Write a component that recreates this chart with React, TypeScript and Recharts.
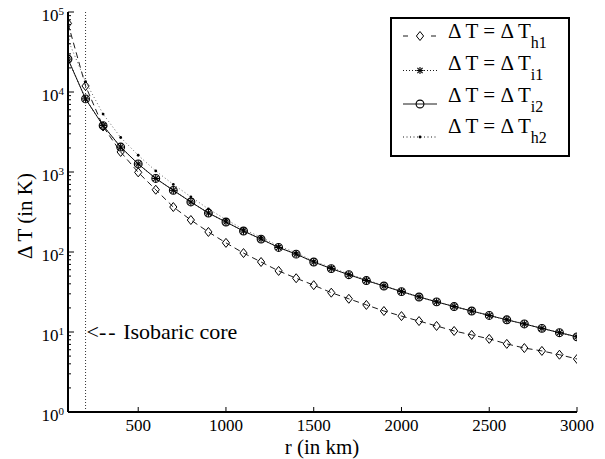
import React from 'react';
import { LineChart, Line, XAxis, YAxis, ReferenceLine, ReferenceDot, Legend } from 'recharts';

const FONT = "'Liberation Serif', 'DejaVu Serif', 'Times New Roman', Times, serif";

// r in km
const radius = [
  100, 200, 300, 400, 500, 600, 700, 800, 900, 1000,
  1100, 1200, 1300, 1400, 1500, 1600, 1700, 1800, 1900, 2000,
  2100, 2200, 2300, 2400, 2500, 2600, 2700, 2800, 2900, 3000,
];

// delta T (in K)
const deltaH1 = [
  72000, 11900, 3700, 1780, 990, 600, 365, 251, 178, 130,
  97, 75, 58, 47, 38.5, 31, 26, 21.8, 18.3, 15.8,
  13.7, 11.9, 10.3, 9.2, 8.2, 7.1, 6.3, 5.8, 5.2, 4.6,
];
const deltaI1 = [
  25800, 8200, 3800, 2050, 1260, 830, 590, 422, 307, 237,
  183, 145, 114, 94, 75, 62, 52, 44, 37.6, 32,
  27.4, 23.8, 20.8, 18.3, 16.1, 14.2, 12.6, 11.1, 9.8, 8.7,
];
const deltaI2 = [
  25800, 8200, 3800, 2050, 1260, 830, 590, 422, 307, 237,
  183, 145, 114, 94, 75, 62, 52, 44, 37.6, 32,
  27.4, 23.8, 20.8, 18.3, 16.1, 14.2, 12.6, 11.1, 9.8, 8.7,
];
const deltaH2 = [
  45000, 13500, 5300, 2700, 1620, 1030, 700, 490, 345, 255,
  192, 153, 119, 98, 77, 64, 53, 45, 38, 32.3,
  27.6, 24, 21, 18.4, 16.2, 14.3, 12.7, 11.2, 9.9, 8.8,
];

const legendSubs = ['h1', 'i1', 'i2', 'h2'];

const xTicks = [500, 1000, 1500, 2000, 2500, 3000];
const decadeTicks = [1, 10, 100, 1000, 10000, 100000];
const minorSteps = [2, 3, 4, 5, 6, 7, 8, 9];
const yTicks = [
  ...decadeTicks.slice(0, 5).flatMap(d => [d, ...minorSteps.map(m => m * d)]),
  100000,
];

const data = radius.map((r, i) => ({
  r,
  h1: deltaH1[i],
  i1: deltaI1[i],
  i2: deltaI2[i],
  h2: deltaH2[i],
}));

const txt = { fontFamily: FONT, fill: '#000' };

// ---- markers ----
function Diamond({ cx, cy }: any) {
  return <path d={`M${cx},${cy - 4.5}L${cx + 3.6},${cy}L${cx},${cy + 4.5}L${cx - 3.6},${cy}Z`} fill="none" stroke="#000" strokeWidth={1} />;
}
function Asterisk({ cx, cy }: any) {
  const a = 3.6, b = 2.6;
  return (
    <g stroke="#000" strokeWidth={1.1}>
      <line x1={cx - a} x2={cx + a} y1={cy} y2={cy} />
      <line x1={cx} x2={cx} y1={cy - a} y2={cy + a} />
      <line x1={cx - b} x2={cx + b} y1={cy - b} y2={cy + b} />
      <line x1={cx - b} x2={cx + b} y1={cy + b} y2={cy - b} />
    </g>
  );
}
function Ring({ cx, cy }: any) {
  return <circle cx={cx} cy={cy} r={3.9} fill="none" stroke="#000" strokeWidth={1.1} />;
}
function Point({ cx, cy }: any) {
  return <circle cx={cx} cy={cy} r={1.4} fill="#000" />;
}

// ---- ticks (MATLAB style, pointing inward) ----
function LeftTick({ x, y, payload }: any) {
  const major = decadeTicks.includes(payload.value);
  return (
    <g>
      <line x1={x} x2={x + (major ? 6 : 3)} y1={y} y2={y} stroke="#000" />
      {major && (
        <text x={x - 4} y={y + 9} textAnchor="end" fontSize={17} style={txt}>
          10<tspan dy={-6.5} fontSize={11}>{Math.round(Math.log10(payload.value))}</tspan>
        </text>
      )}
    </g>
  );
}
function RightTick({ x, y, payload }: any) {
  const major = decadeTicks.includes(payload.value);
  return <line x1={x} x2={x - (major ? 6 : 3)} y1={y} y2={y} stroke="#000" />;
}
function BottomTick({ x, y, payload }: any) {
  return (
    <g>
      <line x1={x} x2={x} y1={y} y2={y - 5} stroke="#000" />
      <text x={x} y={y + 19} textAnchor="middle" fontSize={17} style={txt}>
        {payload.value}
      </text>
    </g>
  );
}
function TopTick({ x, y }: any) {
  return <line x1={x} x2={x} y1={y} y2={y + 5} stroke="#000" />;
}

function YTitle() {
  return (
    <text x={25} y={216} transform="rotate(-90 25 216)" textAnchor="middle" dominantBaseline="central" fontSize={21} style={txt}>
      Δ T (in K)
    </text>
  );
}
function XTitle() {
  return (
    <text x={322} y={454} textAnchor="middle" fontSize={21} style={txt}>
      r (in km)
    </text>
  );
}
function CoreLabel({ viewBox }: any) {
  return (
    <text x={viewBox.x + 1} y={viewBox.y + 7} fontSize={22} style={txt}>
      {'<'}<tspan letterSpacing={2}>{'--'}</tspan>{'  Isobaric core'}
    </text>
  );
}

function LegendBox() {
  const markers = [Diamond, Asterisk, Ring, Point];
  const dashes = ['5 23', '1 2', undefined, '1 2.5'];
  const sampleY = [19, 53.5, 87, 120];
  const baseY = [21, 53, 84.5, 115.5];
  return (
    <svg width={180} height={141} style={{ display: 'block' }}>
      <rect x={1} y={1} width={178} height={138} fill="#fff" stroke="#000" strokeWidth={2} />
      {legendSubs.map((sub, i) => {
        const M = markers[i];
        return (
          <g key={sub}>
            <line x1={13} x2={47} y1={sampleY[i]} y2={sampleY[i]} stroke="#000" strokeWidth={0.9} strokeDasharray={dashes[i]} />
            <M cx={30} cy={sampleY[i]} />
            <text x={58} y={baseY[i]} fontSize={21} style={txt}>
              Δ T = Δ T<tspan dy={10} fontSize={16}>{sub}</tspan>
            </text>
          </g>
        );
      })}
    </svg>
  );
}

export default function App() {
  return (
    <div style={{ position: 'absolute', left: 0, top: 0, background: '#fff', fontFamily: FONT }}>
      <LineChart width={605} height={459} data={data} margin={{ top: 12, right: 28, left: 0, bottom: 0 }}>
        <XAxis
          dataKey="r"
          type="number"
          domain={[100, 3000]}
          ticks={xTicks}
          interval={0}
          height={47}
          tickSize={0}
          tickMargin={0}
          tickLine={false}
          tick={<BottomTick />}
          axisLine={{ stroke: '#000', strokeWidth: 2 }}
          label={<XTitle />}
          allowDataOverflow
        />
        <XAxis
          xAxisId="top"
          orientation="top"
          dataKey="r"
          type="number"
          domain={[100, 3000]}
          ticks={xTicks}
          interval={0}
          height={0}
          tickSize={0}
          tickMargin={0}
          tickLine={false}
          tick={<TopTick />}
          axisLine={{ stroke: '#000', strokeWidth: 2 }}
          allowDataOverflow
        />
        <YAxis
          type="number"
          scale="log"
          domain={[1, 100000]}
          ticks={yTicks}
          interval={0}
          width={68}
          tickSize={0}
          tickMargin={0}
          tickLine={false}
          tick={<LeftTick />}
          axisLine={{ stroke: '#000', strokeWidth: 2 }}
          label={<YTitle />}
          allowDataOverflow
        />
        <YAxis
          yAxisId="right"
          orientation="right"
          type="number"
          scale="log"
          domain={[1, 100000]}
          ticks={yTicks}
          interval={0}
          width={0}
          tickSize={0}
          tickMargin={0}
          tickLine={false}
          tick={<RightTick />}
          axisLine={{ stroke: '#000', strokeWidth: 2 }}
          allowDataOverflow
        />
        <ReferenceLine x={200} stroke="#333" strokeDasharray="1 2" />
        <ReferenceDot x={200} y={10} r={0} fill="none" stroke="none" label={<CoreLabel />} />
        <Line dataKey="h1" stroke="#000" strokeWidth={0.9} strokeDasharray="6 4" dot={<Diamond />} activeDot={false} legendType="none" isAnimationActive={false} />
        <Line dataKey="i1" stroke="#000" strokeWidth={0.9} strokeDasharray="1 2" dot={<Asterisk />} activeDot={false} legendType="none" isAnimationActive={false} />
        <Line dataKey="i2" stroke="#000" strokeWidth={0.9} dot={<Ring />} activeDot={false} legendType="none" isAnimationActive={false} />
        <Line dataKey="h2" stroke="#555" strokeWidth={0.9} strokeDasharray="1 2.5" dot={<Point />} activeDot={false} legendType="none" isAnimationActive={false} />
        <Legend
          layout="horizontal"
          verticalAlign="middle"
          align="center"
          content={<LegendBox />}
          wrapperStyle={{ position: 'absolute', left: 390, top: 17, width: 180, height: 141 }}
        />
      </LineChart>
    </div>
  );
}
